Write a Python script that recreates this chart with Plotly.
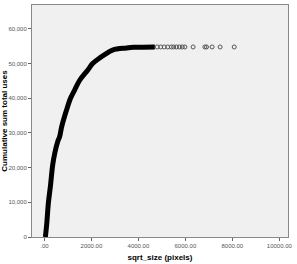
import plotly.graph_objects as go

# Cumulative curve (dense part drawn as a thick line of points)
curve_x = [40, 100, 170, 260, 350, 450, 560, 650, 730, 940, 1110, 1280, 1500,
           1840, 2050, 2350, 2900, 3500, 3800, 4200, 4700]
curve_y = [0, 4000, 10000, 15000, 20700, 24500, 27400, 29000, 31700, 36600,
           40000, 42300, 45200, 48100, 50000, 51600, 53900, 54500, 54700,
           54750, 54800]

# Sparse tail points (individual open circles)
tail_x = [4800, 4950, 5100, 5250, 5400, 5500, 5620, 5750, 5870, 5980,
          6330, 6830, 6900, 7140, 7480, 8080]
tail_y = [54800] * 16

x_tickvals = [0, 2000, 4000, 6000, 8000, 10000]
x_ticktext = [".00", "2000.00", "4000.00", "6000.00", "8000.00", "10000.00"]
y_tickvals = [0, 10000, 20000, 30000, 40000, 50000, 60000]

fig = go.Figure()
fig.add_trace(go.Scatter(x=curve_x, y=curve_y, mode="lines",
                         line=dict(color="black", width=5, shape="spline"),
                         hoverinfo="skip"))
fig.add_trace(go.Scatter(x=tail_x, y=tail_y, mode="markers",
                         marker=dict(symbol="circle-open", size=4,
                                     color="#555555", line=dict(width=1))))

tickfont = dict(family="Liberation Sans, Arial, sans-serif", size=6, color="#555555")
titlefont = dict(family="Liberation Sans, Arial, sans-serif", size=8, color="black")

fig.update_layout(
    width=297, height=264,
    margin=dict(l=32, r=9, t=5, b=27),
    paper_bgcolor="white",
    plot_bgcolor="#f0f0f0",
    showlegend=False,
    xaxis=dict(range=[-530, 10370], tickvals=x_tickvals, ticktext=x_ticktext,
               showgrid=False, zeroline=False, ticks="outside", ticklen=3,
               tickcolor="#666666", tickfont=tickfont, automargin=False,
               showline=True, linecolor="#888888", mirror=True,
               title=dict(text="<b>sqrt_size (pixels)</b>", font=titlefont, standoff=6)),
    yaxis=dict(range=[0, 66900], tickvals=y_tickvals, tickformat=",",
               showgrid=False, zeroline=False, ticks="outside", ticklen=3,
               tickcolor="#666666", tickfont=tickfont, automargin=False,
               showline=True, linecolor="#888888", mirror=True,
               title=dict(text="<b>Cumulative sum total uses</b>", font=titlefont, standoff=2)),
)

fig.write_html("out.html")
